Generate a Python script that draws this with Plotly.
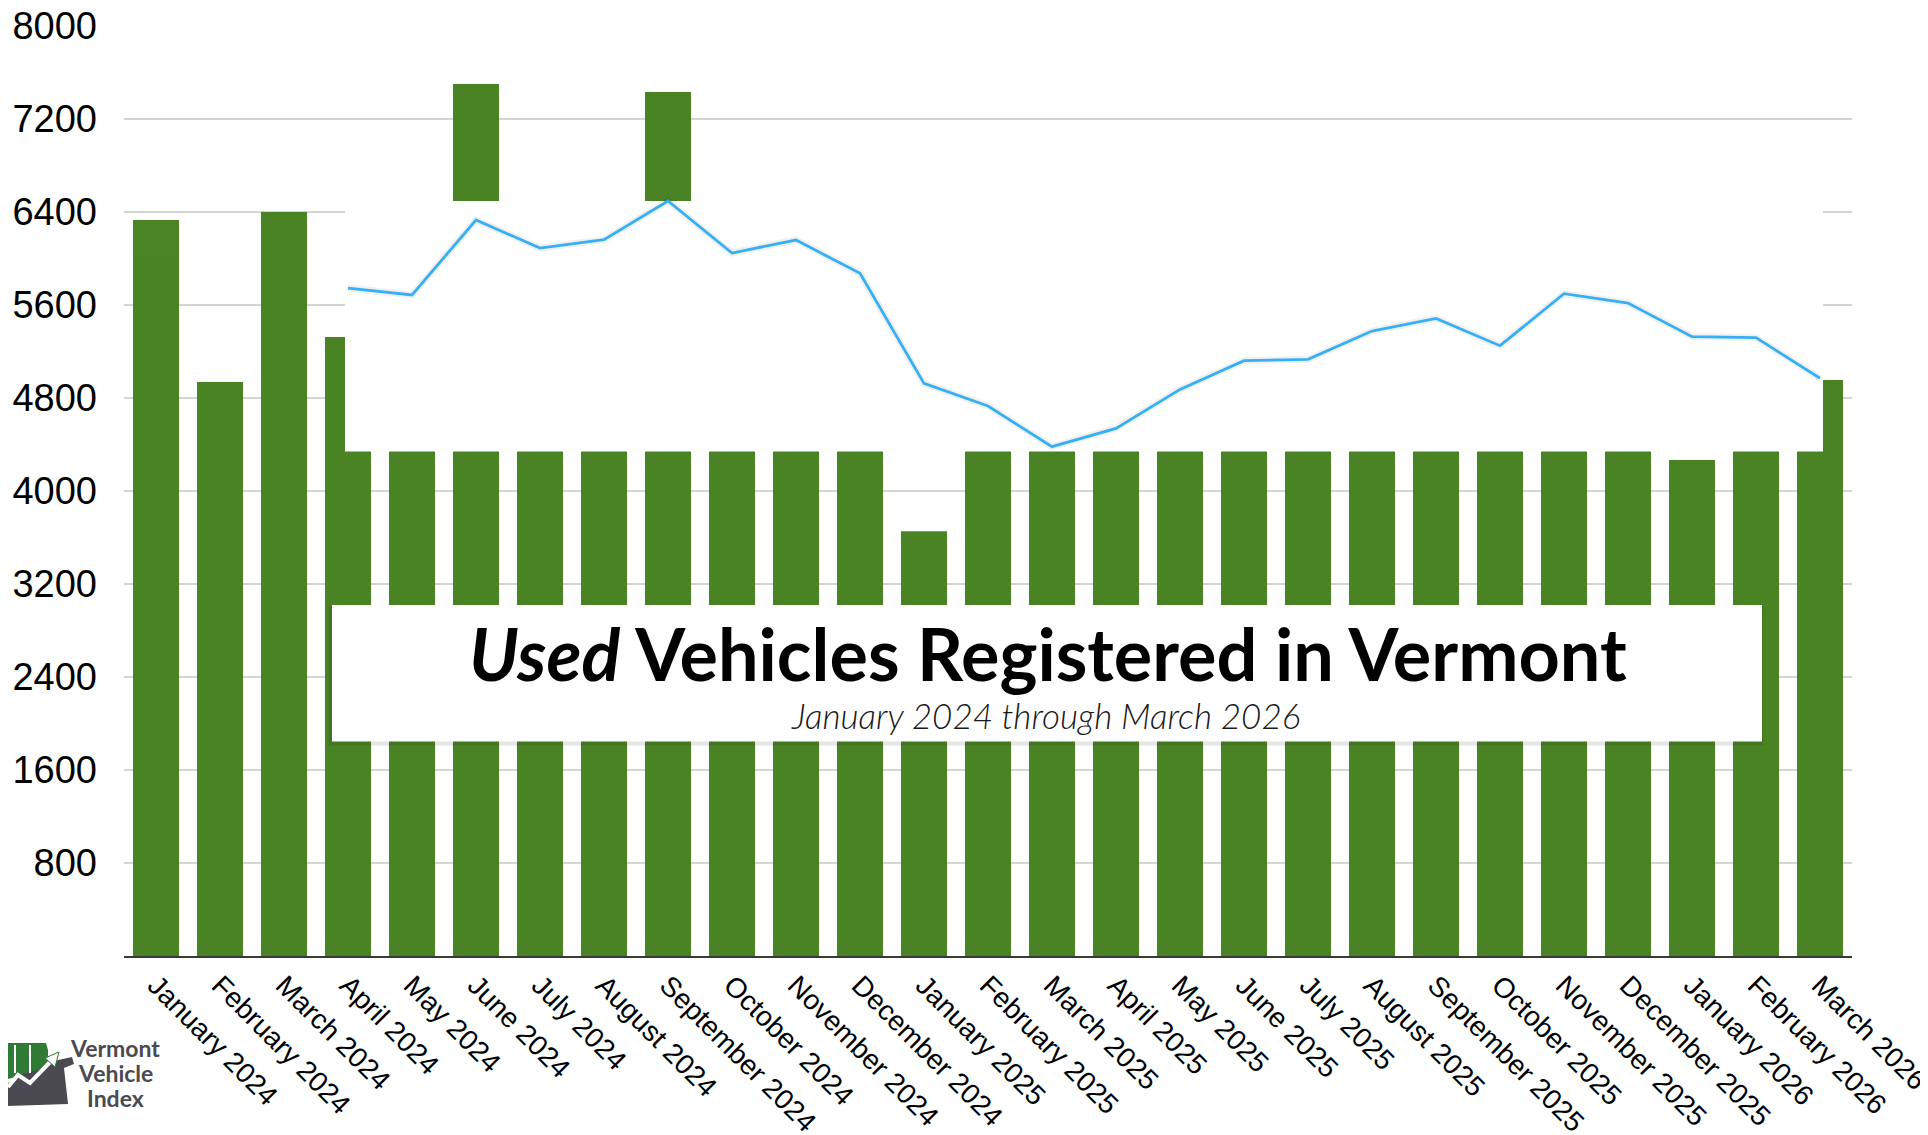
import plotly.graph_objects as go

# ---------------- data ----------------
months = [
    "January 2024", "February 2024", "March 2024", "April 2024", "May 2024",
    "June 2024", "July 2024", "August 2024", "September 2024", "October 2024",
    "November 2024", "December 2024", "January 2025", "February 2025",
    "March 2025", "April 2025", "May 2025", "June 2025", "July 2025",
    "August 2025", "September 2025", "October 2025", "November 2025",
    "December 2025", "January 2026", "February 2026", "March 2026",
]
registrations = [
    6331, 4938, 6400, 5325, 5690,
    7501, 6090, 6160, 7432, 6050,
    6160, 5870, 3654, 4730,
    4380, 4540, 4870, 5120, 5130,
    5380, 5480, 5250, 5700,
    5620, 4267, 5320, 4955,
]
trend_months = months[3:]
trend_values = [
    5746, 5686, 6331, 6090, 6162, 6495, 6047, 6159, 5872,
    4926, 4731, 4381, 4539, 4874, 5121, 5133, 5376, 5485,
    5250, 5697, 5617, 5328, 5319, 4970,
]
y_ticks = [800, 1600, 2400, 3200, 4000, 4800, 5600, 6400, 7200, 8000]

# ---------------- layout constants ----------------
# the page body has an 8px margin, so the figure is sized to fit inside it
OFF = 8
W, H = 1920, 1127
ML, MR, MT, MB = 116, 76, 18, 179
PW, PH = W - ML - MR, H - MT - MB
BAR_COLOR = "#44801d"
LINE_COLOR = "#36aff5"


def px_x(px):  # screen pixel -> paper x
    return (px - OFF - ML) / PW


def px_y(py):  # screen pixel -> paper y
    return (H - MB - (py - OFF)) / PH


pos = {m: i for i, m in enumerate(months)}
bar_x = [pos[m] for m in months]
line_x = [pos[m] for m in trend_months]

# white mask region (decorative overlay) in axis units
MASK_X = [2.953, 26.047]
MASK_Y = [4340, 6495]

fig = go.Figure()
fig.add_trace(go.Bar(
    x=bar_x, y=registrations,
    marker=dict(color=BAR_COLOR, line=dict(width=0)),
    opacity=0.97, hoverinfo="skip", showlegend=False,
))
fig.add_trace(go.Scatter(
    x=[MASK_X[0], MASK_X[1], MASK_X[1], MASK_X[0], MASK_X[0]],
    y=[MASK_Y[0], MASK_Y[0], MASK_Y[1], MASK_Y[1], MASK_Y[0]],
    mode="lines", fill="toself", fillcolor="white",
    line=dict(width=0, color="white"), hoverinfo="skip", showlegend=False,
))
fig.add_trace(go.Scatter(
    x=line_x, y=trend_values, mode="lines",
    line=dict(color="rgba(0,0,0,0.06)", width=7),
    hoverinfo="skip", showlegend=False,
))
fig.add_trace(go.Scatter(
    x=line_x, y=trend_values, mode="lines",
    line=dict(color=LINE_COLOR, width=2.8),
    hoverinfo="skip", showlegend=False,
))

# title box (shadow + box)
box_x0, box_x1 = (332 - 156) / 64, (1762 - 156) / 64
box_y0, box_y1 = 1846, 3019
fig.add_shape(type="rect", xref="x", yref="y",
              x0=box_x0 - 0.05, x1=box_x1 + 0.02, y0=box_y0 - 35, y1=box_y1 - 10,
              fillcolor="rgba(0,0,0,0.10)", line=dict(width=0), layer="above")
fig.add_shape(type="rect", xref="x", yref="y",
              x0=box_x0, x1=box_x1, y0=box_y0, y1=box_y1,
              fillcolor="white", line=dict(width=0), layer="above")

fig.add_annotation(
    text="<b><i>Used</i> Vehicles Registered in Vermont</b>",
    xref="paper", yref="paper", x=px_x(1048), y=px_y(653),
    xanchor="center", yanchor="middle", showarrow=False,
    font=dict(family="Lato", size=72, color="#000000"),
)
fig.add_annotation(
    text="<i>January 2024 through March 2026</i>",
    xref="paper", yref="paper", x=px_x(1045), y=px_y(715),
    xanchor="center", yanchor="middle", showarrow=False,
    font=dict(family="Lato", size=35, color="#1a1a1a", weight=300),
)

# logo (bottom-left)
logo_lines = ["Vermont", "Vehicle", "Index"]
logo_y = [1048, 1073, 1098]
for t, yy in zip(logo_lines, logo_y):
    fig.add_annotation(
        text="<b>" + t + "</b>", xref="paper", yref="paper",
        x=px_x(115), y=px_y(yy), xanchor="center", yanchor="middle",
        showarrow=False, font=dict(family="Lato", size=23, color="#4a4a50"),
    )


def path(points, close=True):
    s = "M " + " L ".join(f"{px_x(a)},{px_y(b)}" for a, b in points)
    return s + (" Z" if close else "")


fig.add_shape(type="path", xref="paper", yref="paper", layer="above",
              path=path([(8, 1043), (46, 1043), (48, 1050), (48, 1070), (20, 1076), (8, 1079)]),
              fillcolor="#2f7a34", line=dict(width=0))
fig.add_shape(type="path", xref="paper", yref="paper", layer="above",
              path=path([(8, 1083), (22, 1074), (44, 1068), (58, 1060), (72, 1057),
                         (74, 1064), (64, 1068), (68, 1104), (8, 1106)]),
              fillcolor="#4a4a50", line=dict(width=0))
fig.add_shape(type="path", xref="paper", yref="paper", layer="above",
              path=path([(8, 1087), (18, 1075), (30, 1083), (51, 1061)], close=False),
              line=dict(color="white", width=4))
fig.add_shape(type="path", xref="paper", yref="paper", layer="above",
              path=path([(45, 1058), (59, 1052), (55, 1067)]),
              fillcolor="white", line=dict(color="#2f7a34", width=1))
for xx in (15, 30):
    fig.add_shape(type="line", xref="paper", yref="paper", layer="above",
                  x0=px_x(xx), x1=px_x(xx), y0=px_y(1045), y1=px_y(1073),
                  line=dict(color="white", width=2))

fig.update_layout(
    width=W, height=H,
    margin=dict(l=ML, r=MR, t=MT, b=MB, autoexpand=False),
    paper_bgcolor="white", plot_bgcolor="white",
    bargap=0.28, showlegend=False,
    font=dict(family="Liberation Sans, Arial, sans-serif", color="#000000"),
)
fig.update_xaxes(
    range=[-0.5, len(months) - 0.5],
    tickmode="array", tickvals=bar_x, ticktext=months,
    tickangle=45, tickfont=dict(size=28, family="Liberation Sans, Arial"),
    showgrid=False, showline=True, linecolor="#3a3a3a", linewidth=1.5,
    ticks="", zeroline=False, automargin=False, ticklabeloverflow="allow",
)
fig.update_yaxes(
    range=[0, 8000], tickmode="array", tickvals=y_ticks,
    tickfont=dict(size=38, family="Liberation Sans, Arial"),
    showgrid=True, gridcolor="#d4d4d4", gridwidth=1.5,
    zeroline=False, showline=False, ticks="", ticklabelstandoff=26,
    automargin=False, ticklabeloverflow="allow",
)

fig.write_html("out.html")
